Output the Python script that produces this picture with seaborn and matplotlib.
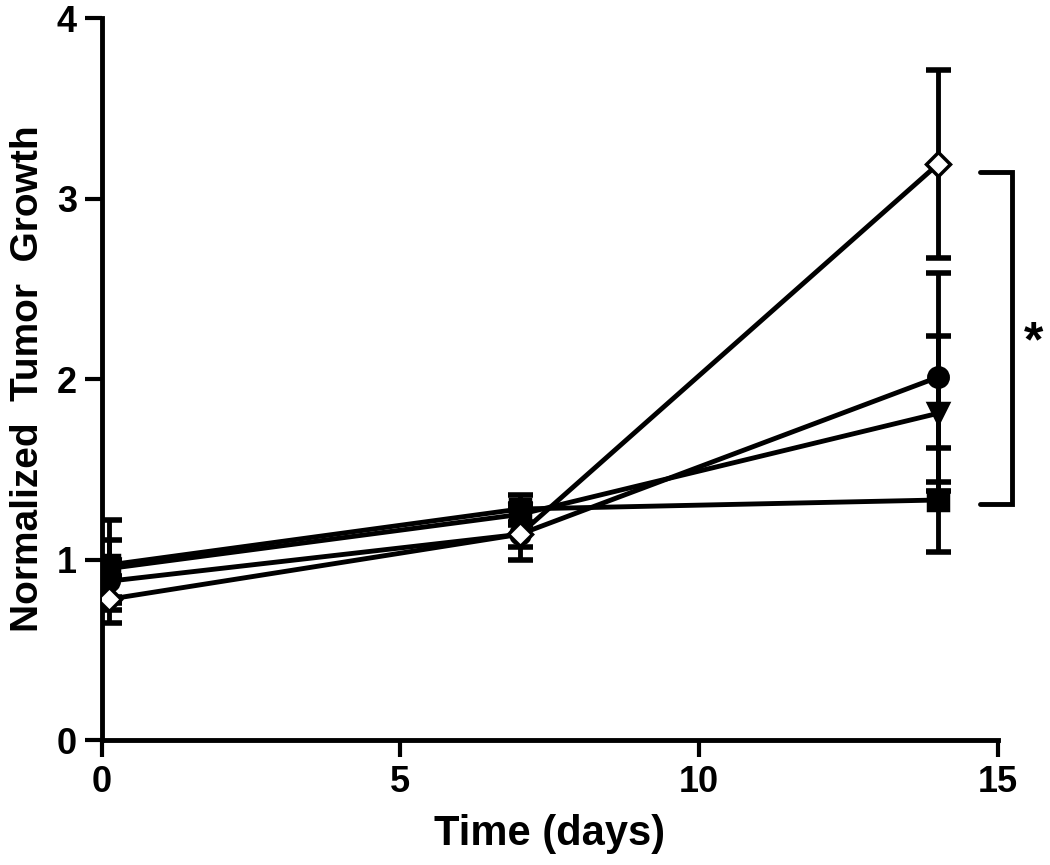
import matplotlib
matplotlib.use("Agg")
import matplotlib.pyplot as plt
import seaborn as sns

# time points (day 0 drawn slightly right of the axis, as in the original)
days = [0.12, 7, 14]

# group means and SDs
square_mean = [0.97, 1.28, 1.33]
square_err = [0.25, 0.08, 0.29]
triangle_mean = [0.95, 1.25, 1.81]
triangle_err = [0.16, 0.06, 0.43]
circle_mean = [0.88, 1.14, 2.01]
circle_err = [0.12, 0.14, 0.58]
diamond_mean = [0.78, 1.14, 3.19]
diamond_err = [0.13, 0.07, 0.52]

groups = [
    ("square", square_mean, square_err, "s", "black"),
    ("triangle", triangle_mean, triangle_err, "v", "black"),
    ("circle", circle_mean, circle_err, "o", "black"),
    ("diamond", diamond_mean, diamond_err, "D", "white"),
]

sns.set_style("ticks")
plt.rcParams['font.family'] = ['Liberation Sans', 'DejaVu Sans']
plt.rcParams['font.weight'] = 'bold'
for k in ['text.color', 'axes.edgecolor', 'axes.labelcolor', 'xtick.color', 'ytick.color']:
    plt.rcParams[k] = 'black'

fig = plt.figure(figsize=(10.5, 8.65), dpi=100)
ax = fig.add_axes([0.097, 0.1445, 0.853, 0.8345])

for name, mean, err, mk, fc in groups:
    ax.errorbar(days, mean, yerr=err, fmt='none', ecolor='black',
                elinewidth=3.5, capsize=9, capthick=4, zorder=2)
    sns.lineplot(x=days, y=mean, marker=mk, markersize=14 if mk != "D" else 12,
                 color='black', lw=3.5, markerfacecolor=fc, markeredgecolor='black',
                 markeredgewidth=2.5, ax=ax, zorder=3)

ax.set_xlim(0, 15)
ax.set_ylim(0, 4)
ax.set_xticks([0, 5, 10, 15])
ax.set_yticks([0, 1, 2, 3, 4])
sns.despine(ax=ax)
for s in ['left', 'bottom']:
    ax.spines[s].set_linewidth(3.5)
ax.tick_params(axis='both', width=3, length=12, labelsize=26, pad=6)

ax.set_xlabel("Time (days)", fontsize=30, fontweight='bold', labelpad=10)
ax.set_ylabel("Normalized  Tumor  Growth", fontsize=28, fontweight='bold', labelpad=8)

# significance bracket
ax.plot([14.7, 15.25, 15.25, 14.7], [3.15, 3.15, 1.31, 1.31], color='black',
        lw=3.5, clip_on=False, solid_capstyle='round', solid_joinstyle='miter')
ax.text(15.6, 2.2, "*", fontsize=36, fontweight='bold', ha='center', va='center')

fig.savefig("out.png", dpi=100)
